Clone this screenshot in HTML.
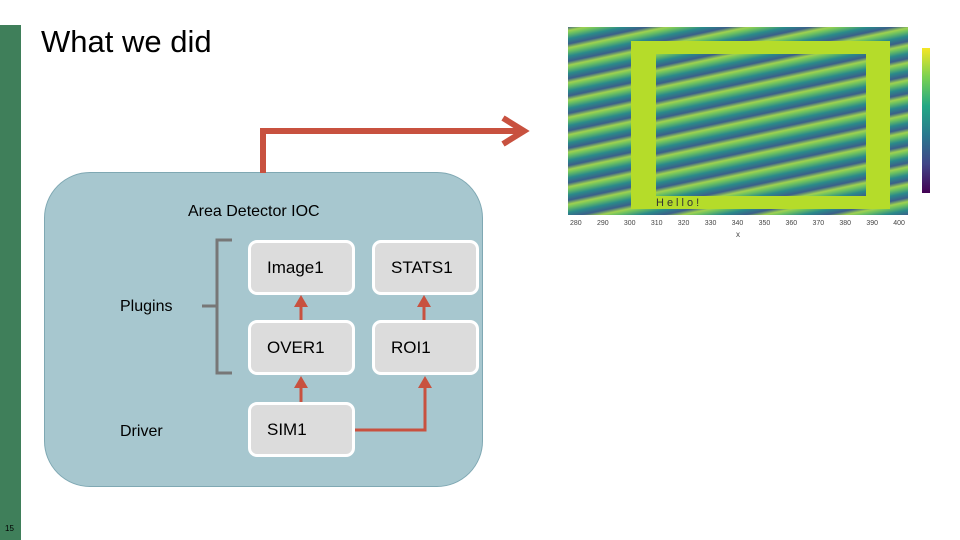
<!DOCTYPE html>
<html><head><style>
body{margin:0;width:960px;height:540px;background:#fff;position:relative;overflow:hidden;font-family:"Liberation Sans",sans-serif}
.a{position:absolute}
.box{position:absolute;width:101px;height:49px;background:#dcdcdc;border:3px solid #fff;border-radius:9px;box-sizing:content-box;font-size:17px;color:#000}
.box span{position:absolute;left:16px;top:15px}
</style></head><body>
<div class="a" style="left:0;top:25px;width:21px;height:515px;background:#3f7f5a"></div>
<div class="a" style="left:5px;top:524px;font-size:8px">15</div>
<div class="a" style="left:41px;top:24px;font-size:31px">What we did</div>
<div class="a" style="left:44px;top:172px;width:437px;height:313px;background:#a7c7cf;border:1px solid #7fa8b3;border-radius:46px"></div>
<div class="a" style="left:188px;top:203px;font-size:16px">Area Detector IOC</div>
<div class="a" style="left:120px;top:298px;font-size:16px">Plugins</div>
<div class="a" style="left:120px;top:423px;font-size:16px">Driver</div>
<div class="box" style="left:248px;top:240px"><span>Image1</span></div>
<div class="box" style="left:372px;top:240px"><span>STATS1</span></div>
<div class="box" style="left:248px;top:320px"><span>OVER1</span></div>
<div class="box" style="left:372px;top:320px"><span>ROI1</span></div>
<div class="box" style="left:248px;top:402px"><span>SIM1</span></div>
<svg class="a" style="left:0;top:0" width="960" height="540">
<path d="M232 240 H217 V373 H232 M217 306 H202" fill="none" stroke="#777" stroke-width="3"/>
<g stroke="#c8513f" fill="#c8513f">
<path d="M263 173 V131 H522" fill="none" stroke-width="6"/>
<path d="M503 118 L524 131 L503 144" fill="none" stroke-width="6"/>
<line x1="301" y1="320" x2="301" y2="305" stroke-width="3"/><path d="M294 307 L301 295 L308 307Z" stroke="none"/>
<line x1="424" y1="320" x2="424" y2="305" stroke-width="3"/><path d="M417 307 L424 295 L431 307Z" stroke="none"/>
<line x1="301" y1="402" x2="301" y2="386" stroke-width="3"/><path d="M294 388 L301 376 L308 388Z" stroke="none"/>
<path d="M355 430 H425 V386" fill="none" stroke-width="3"/><path d="M418 388 L425 376 L432 388Z" stroke="none"/>
</g>
</svg>
<div class="a" style="left:568px;top:27px;width:340px;height:188px;background:repeating-linear-gradient(-12deg,#3b5f8a 0px,#2a8a8a 5px,#6cc060 10px,#9fd250 13px,#3b5f8a 17px)"></div>
<div class="a" style="left:631px;top:41px;width:259px;height:168px;background:#b5dc2a"></div>
<div class="a" style="left:656px;top:54px;width:210px;height:142px;background:repeating-linear-gradient(-12deg,#3b5f8a 0px,#2a8a8a 5px,#6cc060 10px,#9fd250 13px,#3b5f8a 17px)"></div>
<div class="a" style="left:656px;top:197px;font-size:11px;color:#333;letter-spacing:3px">Hello!</div>
<div class="a" style="left:922px;top:48px;width:8px;height:145px;background:linear-gradient(#f5e626,#7ad151,#22a884,#2a788e,#414487,#440154)"></div>
<div class="a" style="left:570px;top:220px;width:335px;font-size:7px;color:#444;display:flex;justify-content:space-between"><span>280</span><span>290</span><span>300</span><span>310</span><span>320</span><span>330</span><span>340</span><span>350</span><span>360</span><span>370</span><span>380</span><span>390</span><span>400</span></div>
<div class="a" style="left:736px;top:230px;font-size:8px;color:#444">x</div>
</body></html>
